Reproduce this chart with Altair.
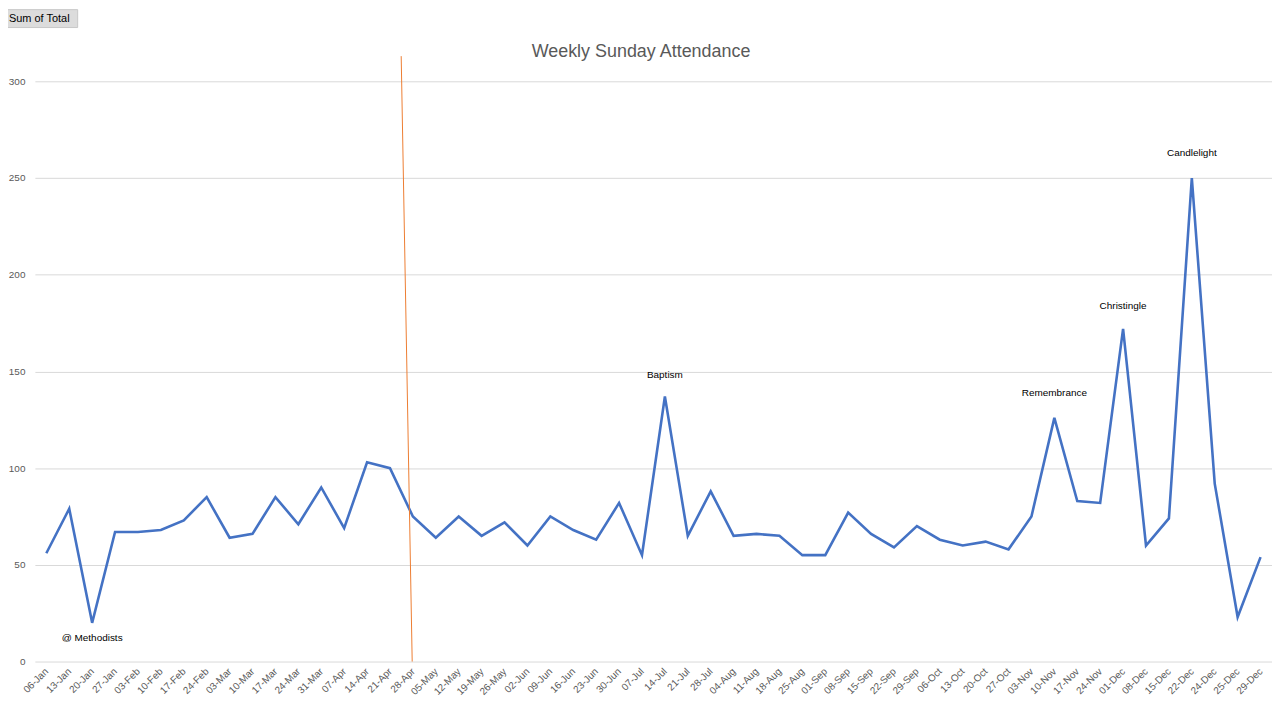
import altair as alt
import pandas as pd

WEEKS = ["06-Jan", "13-Jan", "20-Jan", "27-Jan", "03-Feb", "10-Feb", "17-Feb", "24-Feb",
         "03-Mar", "10-Mar", "17-Mar", "24-Mar", "31-Mar", "07-Apr", "14-Apr", "21-Apr",
         "28-Apr", "05-May", "12-May", "19-May", "26-May", "02-Jun", "09-Jun", "16-Jun",
         "23-Jun", "30-Jun", "07-Jul", "14-Jul", "21-Jul", "28-Jul", "04-Aug", "11-Aug",
         "18-Aug", "25-Aug", "01-Sep", "08-Sep", "15-Sep", "22-Sep", "29-Sep", "06-Oct",
         "13-Oct", "20-Oct", "27-Oct", "03-Nov", "10-Nov", "17-Nov", "24-Nov", "01-Dec",
         "08-Dec", "15-Dec", "22-Dec", "24-Dec", "25-Dec", "29-Dec"]
ATTENDANCE = [56, 79, 20, 67, 67, 68, 73, 85,
              64, 66, 85, 71, 90, 69, 103, 100,
              75, 64, 75, 65, 72, 60, 75, 68,
              63, 82, 55, 137, 65, 88, 65, 66,
              65, 55, 55, 77, 66, 59, 70, 63,
              60, 62, 58, 75, 126, 83, 82, 172,
              60, 74, 250, 92, 23, 54]

NOTE_WEEKS = ["20-Jan", "14-Jul", "10-Nov", "01-Dec", "22-Dec"]
NOTE_TEXT = ["@ Methodists", "Baptism", "Remembrance", "Christingle", "Candlelight"]
NOTE_Y = [12, 148, 139, 184, 263]

# hand-drawn marker line, in category-index units and attendance units
MARKER_POS = [15.49, 15.97]
MARKER_Y = [313, 0]

TITLE = ["Weekly Sunday Attendance"]
FIELD_BUTTON = ["Sum of Total"]
Y_TICKS = [0, 50, 100, 150, 200, 250, 300]

FONT = "Liberation Sans"
GREY = "#595959"

df = pd.DataFrame({"week": WEEKS, "total": ATTENDANCE})
notes = pd.DataFrame({"week": NOTE_WEEKS, "label": NOTE_TEXT, "ny": NOTE_Y})
marker = pd.DataFrame({"pos": MARKER_POS, "my": MARKER_Y})
button = pd.DataFrame({"txt": FIELD_BUTTON})
title_df = pd.DataFrame({"t": TITLE})

x_scale = alt.Scale(type="point", padding=0.5, domain=WEEKS)
y_scale = alt.Scale(domain=[0, 300], nice=False, zero=True)
y_axis = alt.Axis(title=None, values=Y_TICKS, domain=False, ticks=False,
                  gridColor="#d9d9d9", labelColor=GREY, labelFontSize=10,
                  labelFont=FONT, labelPadding=10)

line = alt.Chart(df).mark_line(color="#4472C4", strokeWidth=2.6).encode(
    x=alt.X("week:N", sort=WEEKS, scale=x_scale,
            axis=alt.Axis(title=None, labelAngle=-45, labelAlign="right",
                          labelBaseline="middle", labelFontSize=10,
                          labelColor=GREY, labelFont=FONT, ticks=False,
                          domain=False, labelPadding=8,
                          grid=False, labelOverlap=False)),
    y=alt.Y("total:Q", scale=y_scale, axis=y_axis),
)

note_layer = alt.Chart(notes).mark_text(fontSize=10, font=FONT, color="#000000",
                                        baseline="middle", align="center").encode(
    x=alt.X("week:N", sort=WEEKS, scale=x_scale),
    y=alt.Y("ny:Q", scale=y_scale, axis=y_axis),
    text="label:N",
)

marker_layer = alt.Chart(marker).mark_line(color="#ED7D31", strokeWidth=1).encode(
    x=alt.X("pos:Q", scale=alt.Scale(domain=[-0.5, len(WEEKS) - 0.5], nice=False, zero=False),
            axis=None),
    y=alt.Y("my:Q", scale=y_scale, axis=y_axis),
)

btn_rect = alt.Chart(button).mark_rect(fill="#dcdcdc", stroke="#c8c8c8", strokeWidth=1).encode(
    x=alt.value(-30), x2=alt.value(43), y=alt.value(-72), y2=alt.value(-54)
)
btn_text = alt.Chart(button).mark_text(fontSize=11, font=FONT, color="#000000",
                                       align="left", baseline="middle").encode(
    x=alt.value(-26), y=alt.value(-63), text="txt:N"
)
title_text = alt.Chart(title_df).mark_text(fontSize=18, font=FONT, color=GREY,
                                           align="center", baseline="middle").encode(
    x=alt.value(609), y=alt.value(-29), text="t:N"
)

main = alt.layer(line, note_layer)

chart = alt.layer(main, marker_layer, btn_rect, btn_text, title_text).resolve_scale(
    x="independent"
).properties(
    width=1243,
    height=583,
    autosize=alt.AutoSizeParams(type="none"),
    padding={"left": 27, "top": 72, "right": 0, "bottom": 36},
    view=alt.ViewBackground(stroke="transparent", strokeOpacity=0),
).configure_view(strokeWidth=0, stroke="transparent", strokeOpacity=0).configure_axis(
    domain=False
).configure(background="white")

chart.save("out.html", embed_options={"renderer": "svg", "actions": False})
